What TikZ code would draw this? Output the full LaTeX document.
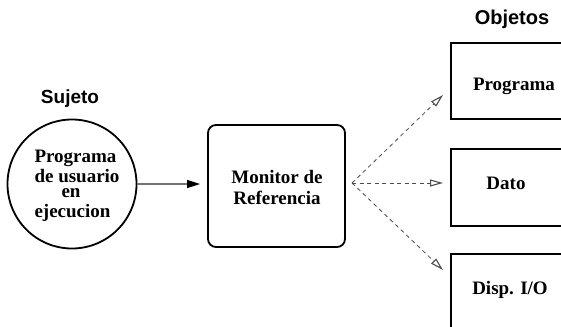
\documentclass[tikz,border=0pt]{standalone}
\usepackage{fontspec}
\setmainfont{Liberation Serif}
\setsansfont{Liberation Sans}
\usetikzlibrary{arrows.meta,calc}
\begin{document}
\begin{tikzpicture}[x=1pt,y=-1pt,
  serif/.style={font=\fontsize{19}{21}\selectfont\bfseries, align=center, inner sep=0pt},
  line/.style={serif, anchor=base},
  heading/.style={font=\fontsize{19}{21}\selectfont\sffamily\bfseries, inner sep=0pt},
  frame/.style={draw=black, line width=1.8pt},
  access/.style={draw=black!70, line width=0.8pt, dash pattern=on 4pt off 3.5pt,
    -{Triangle[open, length=13pt, width=7pt, line width=1.1pt]}},
  call/.style={draw=black!55, line width=1.1pt, shorten >=7pt,
    -{Triangle[length=13pt, width=8pt, color=black]}}
]
\useasboundingbox (0,0) rectangle (561,326);
\clip (0,0) rectangle (561,326);

% subject
\node[heading] (sujeto) at (70,99) {Sujeto};
\node[frame, circle, minimum size=129pt, inner sep=0pt] (subj) at (72,184) {};
\node[line] (subj1) at (75.5,162) {Programa};
\node[line] (subj2) at (77,182) {de usuario};
\node[line] (subj3) at (71,197.5) {en};
\node[line] (subj4) at (72.5,217) {ejecucion};

% reference monitor
\node[frame, rounded corners=8pt, minimum width=137pt, minimum height=122pt] (mon) at (276.5,186) {};
\node[serif] (montext) at (277,187) {Monitor de\\Referencia};

% objects
\node[heading, font=\fontsize{20}{22}\selectfont\sffamily\bfseries] (objetos) at (512,19) {Objetos};
\node[frame, minimum width=140pt, minimum height=76pt, anchor=north west] (prog) at (450,42) {};
\node[frame, minimum width=140pt, minimum height=77pt, anchor=north west] (dato) at (450,148) {};
\node[frame, minimum width=140pt, minimum height=100pt, anchor=north west] (disp) at (450,253) {};
\node[serif] (progtext) at (514,86) {Programa};
\node[serif] (datotext) at (506,183) {Dato};
\node[serif] (disptext) at (510,290) {Disp. I/O};

% connectors
\draw[call] (subj.east) -- (mon.west |- subj.east);
\coordinate (fan) at (352,183);
\coordinate (toprog) at (443,95);
\coordinate (todato) at (443,183);
\coordinate (todisp) at (443,270);
\draw[access] (fan) -- (toprog);
\draw[access] (fan) -- (todato);
\draw[access] (fan) -- (todisp);
\end{tikzpicture}
\end{document}
